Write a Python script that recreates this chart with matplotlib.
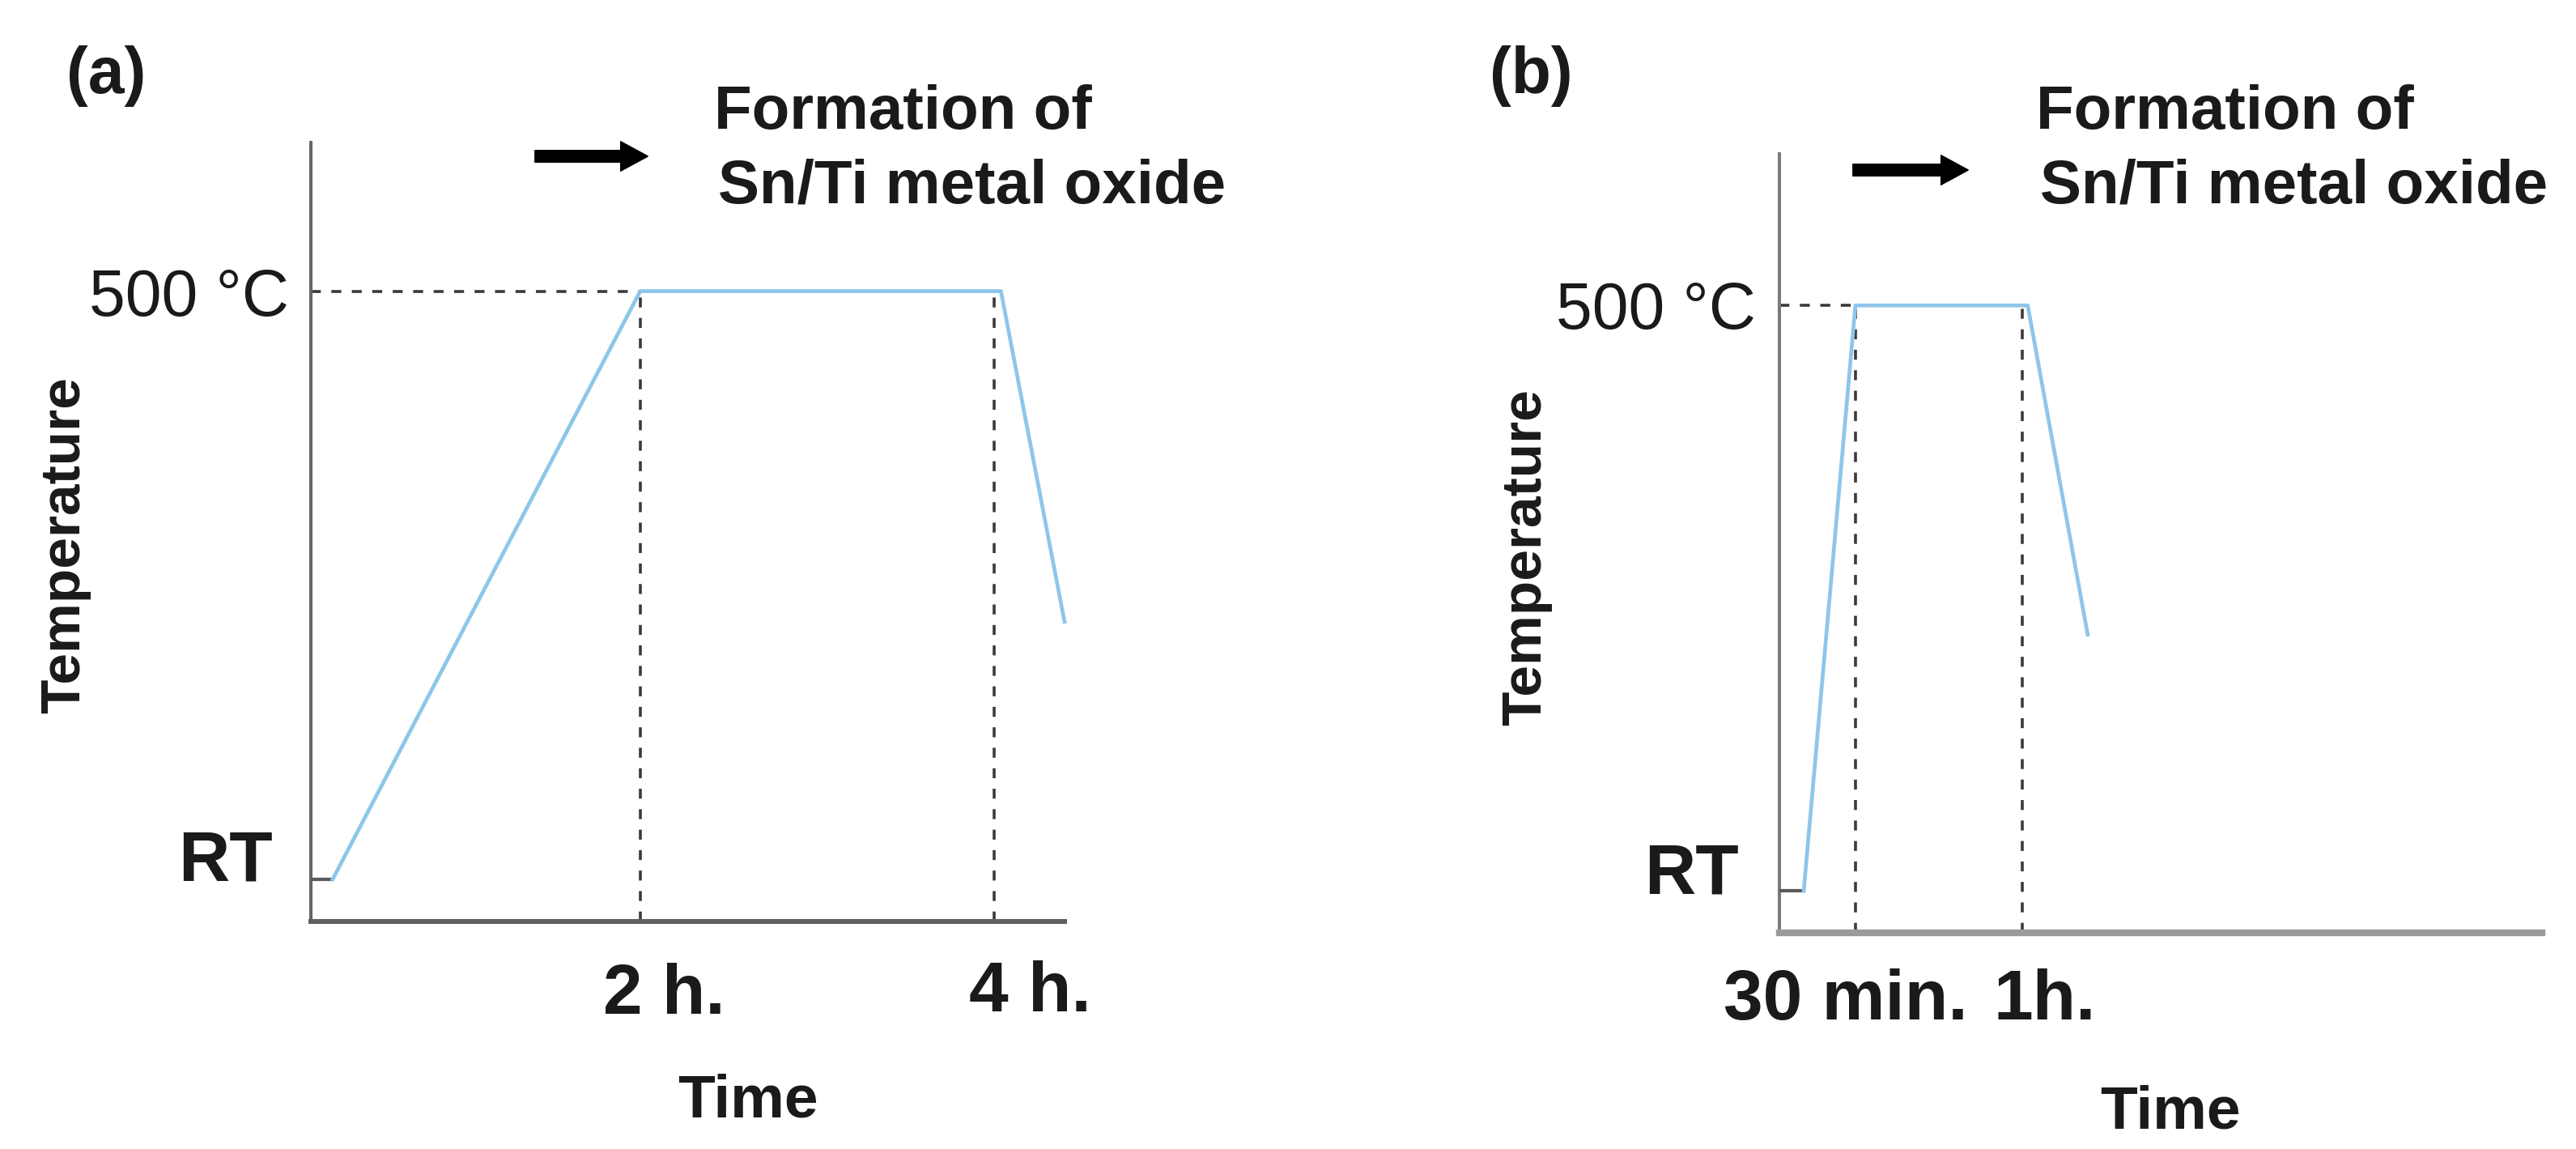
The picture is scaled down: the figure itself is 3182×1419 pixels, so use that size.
import matplotlib
matplotlib.use("Agg")
import matplotlib.pyplot as plt

W, H = 3182, 1419

# panel (a): heating profile, time in hours, temperature in deg C
time_a = [0.26, 2.0, 4.04, 4.40]
temp_a = [25, 500, 500, 233]
stub_a = [0.137, 0.26]
marks_a = [2.0, 4.0]
xlim_a = (0.137, 4.40)

# panel (b)
time_b = [0.345, 0.5, 1.017, 1.197]
temp_b = [25, 500, 500, 233]
stub_b = [0.272, 0.345]
marks_b = [0.5, 1.0]
xlim_b = (0.272, 2.56)

RT = 25
T_HOLD = 500

BLUE = "#8ec6ea"
DASH = "#3a3a3a"
TXT = "#1a1a1a"

plt.rcParams['font.family'] = ['Liberation Sans', 'DejaVu Sans']
plt.rcParams['font.weight'] = 'bold'


def frac(x, y):
    return x / W, 1 - y / H


def make_axes(fig, left, right, top, bottom, spine_x, spine_y):
    x0, y0 = frac(left, bottom)
    ax = fig.add_axes([x0, y0, (right - left) / W, (bottom - top) / H])
    for s in ("top", "right"):
        ax.spines[s].set_visible(False)
    ax.spines["bottom"].set_color(spine_x[0])
    ax.spines["bottom"].set_linewidth(spine_x[1])
    ax.spines["left"].set_color(spine_y[0])
    ax.spines["left"].set_linewidth(spine_y[1])
    ax.set_xticks([])
    ax.set_yticks([])
    ax.patch.set_alpha(0)
    return ax


def draw_profile(ax, t, temp, stub, marks, xlim, ylim):
    ax.set_xlim(*xlim)
    ax.set_ylim(*ylim)
    dash = dict(color=DASH, lw=2.6, dashes=(3.4, 3.6), zorder=2)
    ax.plot([xlim[0], marks[0]], [T_HOLD, T_HOLD], **dash)
    for m in marks:
        ax.plot([m, m], [ylim[0], T_HOLD], **dash)
    ax.plot(stub, [RT, RT], color="#5a5a5a", lw=3, zorder=3,
            solid_capstyle="butt")
    ax.plot(t, temp, color=BLUE, lw=3.4, zorder=3, clip_on=False)


fig = plt.figure(figsize=(W / 100, H / 100), dpi=100)

ax_a = make_axes(fig, 384, 1315, 176, 1138, ("#5f5f5f", 4.3), ("#666666", 2.9))
draw_profile(ax_a, time_a, temp_a, stub_a, marks_a, xlim_a, (-9, 620))

ax_b = make_axes(fig, 2198, 3140, 190, 1152, ("#9a9a9a", 6.0), ("#7a7a7a", 2.9))
draw_profile(ax_b, time_b, temp_b, stub_b, marks_b, xlim_b, (-9, 623))


def label(x, y, s, size, ha="left", va="baseline", rot=0, weight="bold"):
    fig.text(*frac(x, y), s, fontsize=size, ha=ha, va=va, rotation=rot,
             color=TXT, fontweight=weight)


def arrow(x0, x1, y):
    fig.add_artist(plt.annotate(
        "", xy=frac(x1, y), xytext=frac(x0, y),
        xycoords="figure fraction", textcoords="figure fraction",
        arrowprops=dict(arrowstyle="simple,head_length=0.6,head_width=0.65,tail_width=0.26",
                        color="black", mutation_scale=40, shrinkA=0, shrinkB=0)))


# panel (a) texts
label(82, 115, "(a)", 58)
label(882, 159, "Formation of", 55)
label(887, 250, "Sn/Ti metal oxide", 55)
label(357, 390, "500 \u00b0C", 58, ha="right", weight="normal")
label(337, 1088, "RT", 63, ha="right")
label(745, 1252, "2 h.", 63)
label(1197, 1249, "4 h.", 63)
label(924, 1379, "Time", 54, ha="center")
label(80, 673, "Temperature", 50, ha="center", va="center", rot=90)

# panel (b) texts
label(1840, 115, "(b)", 58)
label(2515, 159, "Formation of", 55)
label(2520, 250, "Sn/Ti metal oxide", 55)
label(2169, 406, "500 \u00b0C", 58, ha="right", weight="normal")
label(2148, 1104, "RT", 63, ha="right")
label(2129, 1259, "30 min.", 63)
label(2462, 1259, "1h.", 63)
label(2681, 1393, "Time", 54, ha="center")
label(1885, 688, "Temperature", 50, ha="center", va="center", rot=90)

arrow(661, 800, 193)
arrow(2289, 2431, 210)

fig.savefig("out.png", dpi=100, facecolor="white")
